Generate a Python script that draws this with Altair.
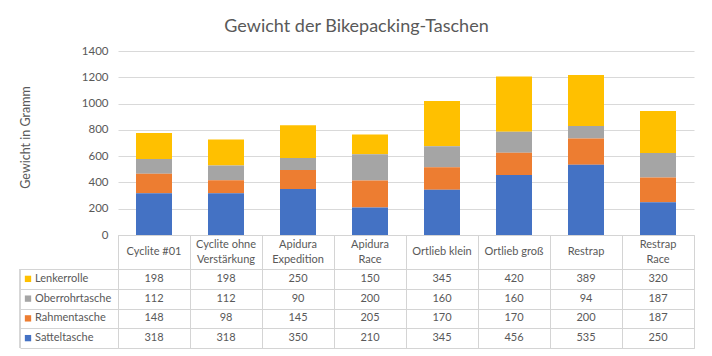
import altair as alt
import pandas as pd

products = ["Cyclite #01", "Cyclite ohne Verstärkung", "Apidura Expedition", "Apidura Race",
            "Ortlieb klein", "Ortlieb groß", "Restrap", "Restrap Race"]
header_labels = ["Cyclite #01", "Cyclite ohne\nVerstärkung", "Apidura\nExpedition", "Apidura\nRace",
                 "Ortlieb klein", "Ortlieb groß", "Restrap", "Restrap\nRace"]
series = ["Lenkerrolle", "Oberrohrtasche", "Rahmentasche", "Satteltasche"]
colors = ["#FFC000", "#A5A5A5", "#ED7D31", "#4472C4"]
lenkerrolle = [198, 198, 250, 150, 345, 420, 389, 320]
oberrohrtasche = [112, 112, 90, 200, 160, 160, 94, 187]
rahmentasche = [148, 98, 145, 205, 170, 170, 200, 187]
satteltasche = [318, 318, 350, 210, 345, 456, 535, 250]
y_ticks = [0, 200, 400, 600, 800, 1000, 1200, 1400]

values = {"Lenkerrolle": lenkerrolle, "Oberrohrtasche": oberrohrtasche,
          "Rahmentasche": rahmentasche, "Satteltasche": satteltasche}
rows = []
for s in series:
    for p, v in zip(products, values[s]):
        rows.append({"product": p, "series": s, "value": v,
                     "order": len(series) - 1 - series.index(s)})
df = pd.DataFrame(rows)
hdf = pd.DataFrame({"product": products, "header": header_labels})
ldf = pd.DataFrame({"series": series})

FONT = "Lato"
TXT = "#595959"
BORDER = "#d4d4d4"
FS = 11
W = 576
H_TOP = 184
H_HEAD = 34
H_BODY = 79
LINE_H = 15

color = alt.Color("series:N", scale=alt.Scale(domain=series, range=colors), legend=None)

top = alt.Chart(df).mark_bar().encode(
    x=alt.X("product:N", sort=products,
            scale=alt.Scale(paddingInner=0.5, paddingOuter=0.25), axis=None),
    y=alt.Y("value:Q", stack="zero",
            scale=alt.Scale(domain=[0, 1400], nice=False),
            axis=alt.Axis(values=y_ticks, format="d", title="Gewicht in Gramm", grid=True,
                          gridColor="#d9d9d9", domain=False, ticks=False,
                          labelPadding=10, labelColor=TXT, labelFontSize=11.5,
                          labelFont=FONT, titleFont=FONT, titleFontSize=12.5,
                          titleFontWeight="normal", titleColor=TXT,
                          titleX=-93, titleY=86, titleBaseline="middle",
                          titleAlign="center")),
    color=color,
    order=alt.Order("order:Q"),
).properties(width=W, height=H_TOP, view=alt.ViewBackground(stroke="transparent"))

hx = alt.X("product:N", sort=products,
           scale=alt.Scale(paddingInner=0, paddingOuter=0),
           axis=alt.Axis(title=None, labels=False, ticks=False, domain=False,
                         grid=True, tickBand="extent", gridColor=BORDER))
head_one = alt.Chart(hdf).transform_filter(
    "indexof(datum.header, '\\n') < 0"
).mark_text(font=FONT, fontSize=FS, color=TXT, baseline="middle").encode(
    x=hx, y=alt.value(H_HEAD / 2), text="header:N")
head_two = alt.Chart(hdf).transform_filter(
    "indexof(datum.header, '\\n') >= 0"
).mark_text(font=FONT, fontSize=FS, color=TXT, baseline="middle", lineBreak="\n",
            lineHeight=LINE_H).encode(
    x=hx, y=alt.value(H_HEAD / 2 - LINE_H / 2), text="header:N")
header = alt.layer(head_one, head_two).properties(
    width=W, height=H_HEAD, view=alt.ViewBackground(stroke=BORDER))

xb = alt.X("product:N", sort=products,
           scale=alt.Scale(paddingInner=0, paddingOuter=0),
           axis=alt.Axis(title=None, labels=False, ticks=False, domain=False,
                         grid=True, tickBand="extent", gridColor=BORDER))
yb = alt.Y("series:N", sort=series,
           scale=alt.Scale(paddingInner=0, paddingOuter=0),
           axis=alt.Axis(title=None, labels=False, domain=False, ticks=True,
                         tickSize=98, tickColor=BORDER, tickBand="extent",
                         grid=True, gridColor=BORDER))

cells = alt.Chart(df).mark_text(font=FONT, fontSize=FS, color=TXT, baseline="middle").encode(
    x=xb, y=yb, text="value:Q")
squares = alt.Chart(ldf).mark_square(size=40, opacity=1).encode(
    x=alt.value(-90), y=alt.Y("series:N", sort=series), color=color)
labels = alt.Chart(ldf).mark_text(font=FONT, fontSize=FS, color=TXT, align="left",
                                  baseline="middle").encode(
    x=alt.value(-83), y=alt.Y("series:N", sort=series), text="series:N")
leftline = alt.Chart(ldf).mark_rule(color=BORDER).encode(
    x=alt.value(-98), y=alt.value(0), y2=alt.value(H_BODY))

body = alt.layer(cells, squares, labels, leftline).properties(
    width=W, height=H_BODY, view=alt.ViewBackground(stroke=BORDER))

chart = alt.vconcat(top, header, body, spacing=0, bounds="flush").resolve_scale(
    x="independent", y="independent"
).properties(
    title=alt.TitleParams("Gewicht der Bikepacking-Taschen", fontSize=18, font=FONT,
                          fontWeight="normal", color=TXT, anchor="middle",
                          frame="bounds", offset=9),
    padding={"left": 10, "top": 9, "right": 5, "bottom": 0},
).configure(background="white")

chart.save("out.html", embed_options={"renderer": "svg", "actions": False})
